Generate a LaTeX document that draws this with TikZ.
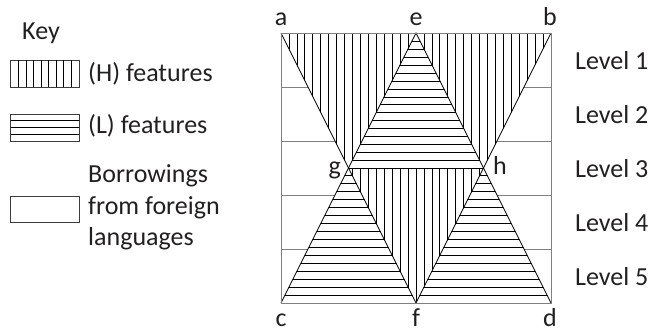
\documentclass[tikz,border=0pt]{standalone}
\usepackage{fontspec}
\setmainfont{Carlito}
\definecolor{bgrey}{RGB}{128,128,128}
\definecolor{kdark}{RGB}{60,60,60}
\definecolor{tdark}{RGB}{35,31,32}
\tikzset{
  bord/.style={draw=bgrey,line width=1pt},
  lvl/.style={draw=bgrey,line width=0.9pt},
  edg/.style={draw=black,line width=0.8pt},
  hat/.style={draw=black,line width=0.7pt},
  kbox/.style={draw=kdark,line width=0.9pt},
  lab/.style={font=\fontsize{26}{31.6}\selectfont,inner sep=0pt,text=tdark},
}
\begin{document}
\begin{tikzpicture}[x=1pt,y=-1pt]
\useasboundingbox (0,0) rectangle (651,333);
\coordinate (a) at (281,33);
\coordinate (b) at (551,33);
\coordinate (c) at (281,303);
\coordinate (d) at (551,303);
\coordinate (e) at (416,33);
\coordinate (f) at (416,303);
\coordinate (g) at (348.5,168);
\coordinate (h) at (483.5,168);
\begin{scope}
\clip (a) -- (g) -- (c) -- cycle (b) -- (h) -- (d) -- cycle;
\foreach \y in {87,141,195,249}
  \draw[lvl] (281,\y) -- (551,\y);
\end{scope}
\begin{scope}
\clip (a) -- (b) -- (f) -- cycle;
\foreach \i in {1,...,33}
  \draw[hat] ({281+\i*7.94},33) -- ({281+\i*7.94},303);
\end{scope}
\fill[white] (e) -- (g) -- (h) -- cycle;
\begin{scope}
\clip (e) -- (g) -- (h) -- cycle;
\foreach \i in {0,...,16}
  \draw[hat] (281,{168-\i*7.9}) -- (551,{168-\i*7.9});
\end{scope}
\begin{scope}
\clip (c) -- (g) -- (f) -- cycle (f) -- (h) -- (d) -- cycle;
\foreach \i in {1,...,16}
  \draw[hat] (281,{303-\i*8}) -- (551,{303-\i*8});
\end{scope}
\draw[edg] (a) -- (f) -- (b);
\draw[edg] (c) -- (e) -- (d);
\draw[edg] (g) -- (h);
\draw[bord] (a) rectangle (d);
\node[lab,anchor=base] (la) at (281,25) {a};
\node[lab,anchor=base] (le) at (416,25) {e};
\node[lab,anchor=base] (lb) at (550,25) {b};
\node[lab,anchor=base] (lc) at (281,326) {c};
\node[lab,anchor=base] (lf) at (416,326) {f};
\node[lab,anchor=base] (ld) at (550,326) {d};
\node[lab,anchor=base east] (lg) at (341,174) {g};
\node[lab,anchor=base west] (lh) at (493,174) {h};
\foreach \k in {1,...,5}
  \node[lab,anchor=base west] (lev\k) at (575,{69+(\k-1)*54}) {Level \k};
\node[lab,anchor=base west] (key) at (22,39.3) {Key};
\draw[kbox] (10.7,60) rectangle (79,87);
\foreach \i in {1,...,8}
  \draw[hat] ({10.7+\i*7.59},60) -- ({10.7+\i*7.59},87);
\node[lab,anchor=base west] (kh) at (88,81) {(H) features};
\draw[kbox] (10.7,114) rectangle (79,141);
\foreach \i in {1,...,3}
  \draw[hat] (10.7,{114+\i*6.75}) -- (79,{114+\i*6.75});
\node[lab,anchor=base west] (kl) at (88,133.3) {(L) features};
\draw[kbox] (10.7,196) rectangle (79,222);
\node[lab,anchor=base west] (kb1) at (88,182.7) {Borrowings};
\node[lab,anchor=base west] (kb2) at (88,214.3) {from foreign};
\node[lab,anchor=base west] (kb3) at (88,245.9) {languages};
\end{tikzpicture}
\end{document}
